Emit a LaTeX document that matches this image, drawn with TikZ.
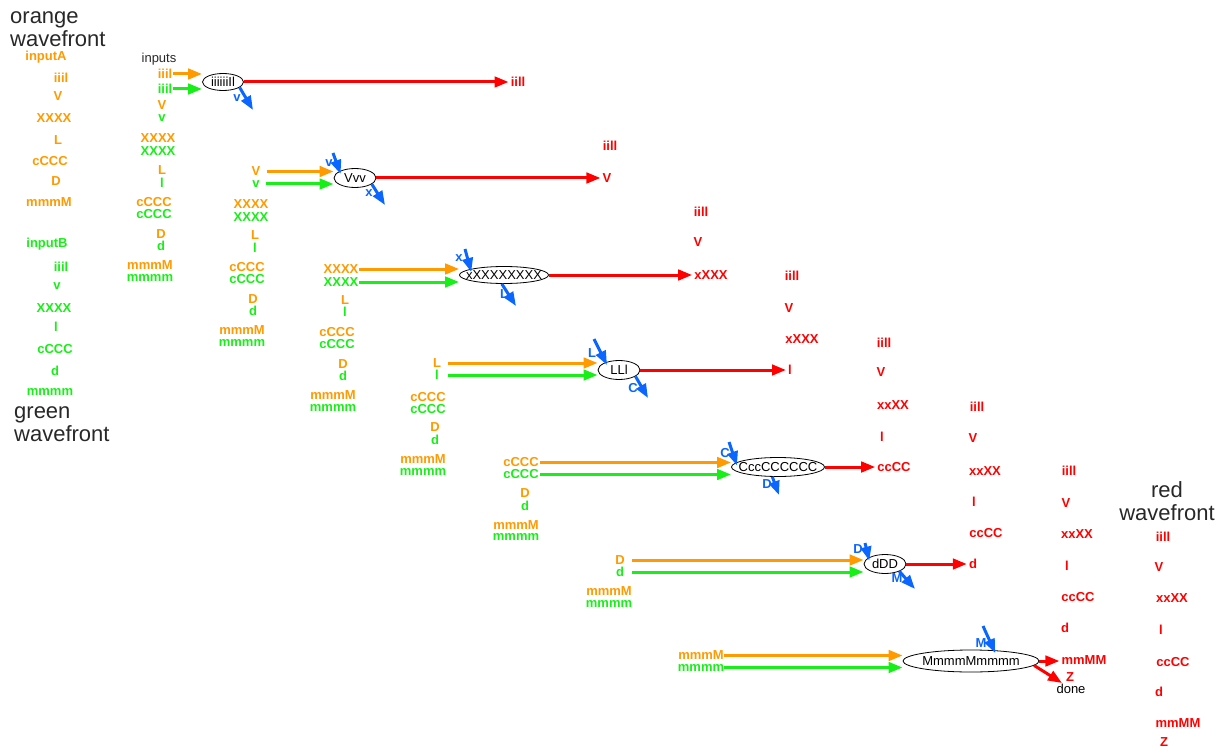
\documentclass[tikz,border=0pt]{standalone}
\usepackage{fontspec}
\setmainfont{Liberation Sans}
\usetikzlibrary{arrows.meta,shapes.geometric}
\definecolor{cor}{RGB}{255,154,0}
\definecolor{cgr}{RGB}{24,238,24}
\definecolor{crd}{RGB}{255,0,0}
\definecolor{cbl}{RGB}{10,102,255}
\definecolor{ctx}{RGB}{40,40,40}
\begin{document}
\begin{tikzpicture}[x=1pt,y=-1pt,
  lab/.style={inner sep=0pt,font=\fontsize{13}{15}\selectfont\bfseries},
  ol/.style={lab,text=cor},
  gl/.style={lab,text=cgr},
  rl/.style={lab,text=crd},
  bl/.style={lab,text=cbl},
  ttl/.style={inner sep=0pt,font=\fontsize{22}{23}\selectfont,text=ctx},
  plain/.style={inner sep=0pt,font=\fontsize{13}{15}\selectfont,text=ctx},
  ell/.style={ellipse,draw=black,line width=0.8pt,fill=white,inner sep=0pt},
  etx/.style={inner sep=0pt,font=\fontsize{13}{15}\selectfont,text=black},
  hd/.style={-{Triangle[length=14pt,width=10.5pt]}},
  oarr/.style={hd,draw=cor,line width=3pt},
  garr/.style={hd,draw=cgr,line width=3pt},
  rarr/.style={hd,draw=crd,line width=3pt,shorten >=2pt},
  barr/.style={hd,draw=cbl,line width=3pt},
  bin/.style={barr,shorten >=-3pt},
]
\useasboundingbox (0,0) rectangle (1225,751);

% titles
\node[ttl,anchor=west,align=left] (tor) at (10,29) {orange\\wavefront};
\node[ttl,anchor=west,align=left] (tgr) at (14,424) {green\\wavefront};
\node[ttl,align=center] (trd) at (1167,501) {red\\wavefront};

% left column: orange input
\node[ol] (oA0) at (46,57) {inputA};
\node[ol] (oA1) at (61,78) {iiil};
\node[ol] (oA2) at (58,96) {V};
\node[ol] (oA3) at (54,118) {XXXX};
\node[ol] (oA4) at (58,140) {L};
\node[ol] (oA5) at (50,161) {cCCC};
\node[ol] (oA6) at (56,181) {D};
\node[ol] (oA7) at (49,202) {mmmM};
% left column: green input
\node[gl] (gB0) at (47,244) {inputB};
\node[gl] (gB1) at (61,267) {iiil};
\node[gl] (gB2) at (57,286) {v};
\node[gl] (gB3) at (54,308) {XXXX};
\node[gl] (gB4) at (56,327) {l};
\node[gl] (gB5) at (55,349) {cCCC};
\node[gl] (gB6) at (55,371) {d};
\node[gl] (gB7) at (50,392) {mmmm};

% column 2
\node[plain] (inp) at (159,59) {inputs};
\node[ol] (o2a) at (165,74) {iiil};
\node[gl] (g2a) at (165,89) {iiil};
\node[ol] (o2b) at (162,105.5) {V};
\node[gl] (g2b) at (162,118) {v};
\node[ol] (o2c) at (158,138) {XXXX};
\node[gl] (g2c) at (158,151) {XXXX};
\node[ol] (o2d) at (162,170.5) {L};
\node[gl] (g2d) at (162,182.5) {l};
\node[ol] (o2e) at (154,202.5) {cCCC};
\node[gl] (g2e) at (154,214.5) {cCCC};
\node[ol] (o2f) at (161,234) {D};
\node[gl] (g2f) at (161,246) {d};
\node[ol] (o2g) at (150,265) {mmmM};
\node[gl] (g2g) at (150,277.5) {mmmm};

% column 3
\node[ol] (o3b) at (256,171.5) {V};
\node[gl] (g3b) at (256,184) {v};
\node[ol] (o3c) at (251,204) {XXXX};
\node[gl] (g3c) at (251,217) {XXXX};
\node[ol] (o3d) at (255,235.5) {L};
\node[gl] (g3d) at (255,247.5) {l};
\node[ol] (o3e) at (247,267.5) {cCCC};
\node[gl] (g3e) at (247,279.5) {cCCC};
\node[ol] (o3f) at (253,299) {D};
\node[gl] (g3f) at (253,311) {d};
\node[ol] (o3g) at (242,330.5) {mmmM};
\node[gl] (g3g) at (242,342.5) {mmmm};

% column 4
\node[ol] (o4c) at (341,269) {XXXX};
\node[gl] (g4c) at (341,282) {XXXX};
\node[ol] (o4d) at (345,300.5) {L};
\node[gl] (g4d) at (345,311.5) {l};
\node[ol] (o4e) at (337,332.5) {cCCC};
\node[gl] (g4e) at (337,344.5) {cCCC};
\node[ol] (o4f) at (343,364) {D};
\node[gl] (g4f) at (343,376) {d};
\node[ol] (o4g) at (333,395.5) {mmmM};
\node[gl] (g4g) at (333,407.5) {mmmm};

% column 5
\node[ol] (o5d) at (437,363) {L};
\node[gl] (g5d) at (437,375) {l};
\node[ol] (o5e) at (428,397) {cCCC};
\node[gl] (g5e) at (428,409) {cCCC};
\node[ol] (o5f) at (435,427.5) {D};
\node[gl] (g5f) at (435,439.5) {d};
\node[ol] (o5g) at (423,459) {mmmM};
\node[gl] (g5g) at (423,472) {mmmm};

% column 6
\node[ol] (o6e) at (521,462.5) {cCCC};
\node[gl] (g6e) at (521,474.5) {cCCC};
\node[ol] (o6f) at (525,493.5) {D};
\node[gl] (g6f) at (525,505.5) {d};
\node[ol] (o6g) at (516,525) {mmmM};
\node[gl] (g6g) at (516,537) {mmmm};

% column 7
\node[ol] (o7f) at (620,560) {D};
\node[gl] (g7f) at (620,572) {d};
\node[ol] (o7g) at (609,591.5) {mmmM};
\node[gl] (g7g) at (609,603.5) {mmmm};

% column 8
\node[ol] (o8g) at (701,655.5) {mmmM};
\node[gl] (g8g) at (701,667.5) {mmmm};

% merge ellipses
\node[ell,minimum width=41pt,minimum height=17pt,label={[etx]center:iiiiiiIl}] (e1) at (223,82) {};
\node[ell,minimum width=42pt,minimum height=19pt,label={[etx]center:Vvv}] (e2) at (355,178) {};
\node[ell,minimum width=89pt,minimum height=17pt,label={[etx]center:xXXXXXXXX}] (e3) at (504,275) {};
\node[ell,minimum width=42pt,minimum height=19pt,label={[etx]center:LLl}] (e4) at (619,370) {};
\node[ell,minimum width=93pt,minimum height=19pt,label={[etx]center:CccCCCCCC}] (e5) at (778,467) {};
\node[ell,minimum width=42pt,minimum height=19pt,label={[etx]center:dDD}] (e6) at (885,564) {};
\node[ell,minimum width=136pt,minimum height=22pt,label={[etx]center:MmmmMmmmm}] (e7) at (971,661) {};

% red outputs
\node[rl] (r1a) at (518,82) {iill};
\node[rl] (r2a) at (610,146) {iill};
\node[rl] (r2b) at (607,178) {V};
\node[rl] (r3a) at (701,212) {iill};
\node[rl] (r3b) at (698,242) {V};
\node[rl] (r3c) at (711,275) {xXXX};
\node[rl] (r4a) at (792,276) {iill};
\node[rl] (r4b) at (789,308) {V};
\node[rl] (r4c) at (802,339) {xXXX};
\node[rl] (r4d) at (790,370) {l};
\node[rl] (r5a) at (884,343) {iill};
\node[rl] (r5b) at (881,372) {V};
\node[rl] (r5c) at (893,405) {xxXX};
\node[rl] (r5d) at (882,437) {l};
\node[rl] (r5e) at (894,467) {ccCC};
\node[rl] (r6a) at (977,407) {iill};
\node[rl] (r6b) at (973,438) {V};
\node[rl] (r6c) at (985,471) {xxXX};
\node[rl] (r6d) at (974,502) {l};
\node[rl] (r6e) at (986,533) {ccCC};
\node[rl] (r6f) at (973,564) {d};
\node[rl] (r7a) at (1069,471) {iill};
\node[rl] (r7b) at (1066,503) {V};
\node[rl] (r7c) at (1077,534) {xxXX};
\node[rl] (r7d) at (1067,566) {l};
\node[rl] (r7e) at (1078,597) {ccCC};
\node[rl] (r7f) at (1065,628) {d};
\node[rl] (r7g) at (1084,660) {mmMM};
\node[rl] (r7z) at (1070,677) {Z};
\node[plain,text=black] (done) at (1071,689) {done};
\node[rl] (r8a) at (1163,537) {iill};
\node[rl] (r8b) at (1159,567) {V};
\node[rl] (r8c) at (1172,598) {xxXX};
\node[rl] (r8d) at (1161,630) {l};
\node[rl] (r8e) at (1173,662) {ccCC};
\node[rl] (r8f) at (1159,692) {d};
\node[rl] (r8g) at (1178,723) {mmMM};
\node[rl] (r8z) at (1164,742) {Z};

% blue coordinates
\coordinate (b1o) at (253,110);
\coordinate (b2i) at (333,153);
\coordinate (b2o) at (385,205);
\coordinate (b3i) at (465,249);
\coordinate (b3o) at (516,306);
\coordinate (b4i) at (594,339);
\coordinate (b4o) at (648,398);
\coordinate (b5i) at (729,442);
\coordinate (b5o) at (779,495);
\coordinate (b6i) at (865,543);
\coordinate (b6o) at (915,589);
\coordinate (b7i) at (983,626);
\coordinate (zend) at (1062,683);

% orange / green inputs into the merges
\draw[oarr,shorten <=1pt] (o2a.east) -- (o2a.east -| e1.west);
\draw[garr,shorten <=1pt] (g2a.east) -- (g2a.east -| e1.west);
\draw[oarr,shorten <=6pt] (o3b.east) -- (o3b.east -| e2.west);
\draw[garr,shorten <=6.4pt] (g3b.east) -- (g3b.east -| e2.west);
\draw[oarr,shorten <=0pt] (o4c.east) -- (o4c.east -| e3.west);
\draw[garr,shorten <=0pt] (g4c.east) -- (g4c.east -| e3.west);
\draw[oarr,shorten <=7pt] (o5d.east) -- (o5d.east -| e4.west);
\draw[garr,shorten <=9pt] (g5d.east) -- (g5d.east -| e4.west);
\draw[oarr,shorten <=1.3pt] (o6e.east) -- (o6e.east -| e5.west);
\draw[garr,shorten <=1.3pt] (g6e.east) -- (g6e.east -| e5.west);
\draw[oarr,shorten <=7.3pt] (o7f.east) -- (o7f.east -| e6.west);
\draw[garr,shorten <=8pt] (g7f.east) -- (g7f.east -| e6.west);
\draw[oarr,shorten <=0pt] (o8g.east) -- (o8g.east -| e7.west);
\draw[garr,shorten <=0pt] (g8g.east) -- (g8g.east -| e7.west);

% red outputs
\draw[rarr] (e1.east) -- (e1.east -| r1a.west);
\draw[rarr] (e2.east) -- (e2.east -| r2b.west);
\draw[rarr] (e3.east) -- (e3.east -| r3c.west);
\draw[rarr] (e4.east) -- (e4.east -| r4d.west);
\draw[rarr] (e5.east) -- (e5.east -| r5e.west);
\draw[rarr] (e6.east) -- (e6.east -| r6f.west);
\draw[rarr] (e7.east) -- (e7.east -| r7g.west);
\draw[rarr,shorten >=0pt] (e7.356) -- (zend);

% blue carries
\draw[barr] (e1.342) -- (b1o);
\draw[bin] (b2i) -- (e2.156);
\draw[barr] (e2.340) -- (b2o);
\draw[bin] (b3i) -- (e3.170);
\draw[barr] (e3.256) -- (b3o);
\draw[bin] (b4i) -- (e4.150);
\draw[barr] (e4.339) -- (b4o);
\draw[bin] (b5i) -- (e5.174);
\draw[barr] (e5.240) -- (b5o);
\draw[bin] (b6i) -- (e6.159);
\draw[barr] (e6.333) -- (b6o);
\draw[bin] (b7i) -- (e7.25);

% blue labels
\node[bl] (l1o) at (237,98) {v};
\node[bl] (l2i) at (329,163) {v};
\node[bl] (l2o) at (369,193) {x};
\node[bl] (l3i) at (459,258) {x};
\node[bl] (l3o) at (504,294) {L};
\node[bl] (l4i) at (592,353) {L};
\node[bl] (l4o) at (633,388) {C};
\node[bl] (l5i) at (725,453) {C};
\node[bl] (l5o) at (767,484) {D};
\node[bl] (l6i) at (858,549) {D};
\node[bl] (l6o) at (897,578) {M};
\node[bl] (l7i) at (981,643) {M};
\end{tikzpicture}
\end{document}
